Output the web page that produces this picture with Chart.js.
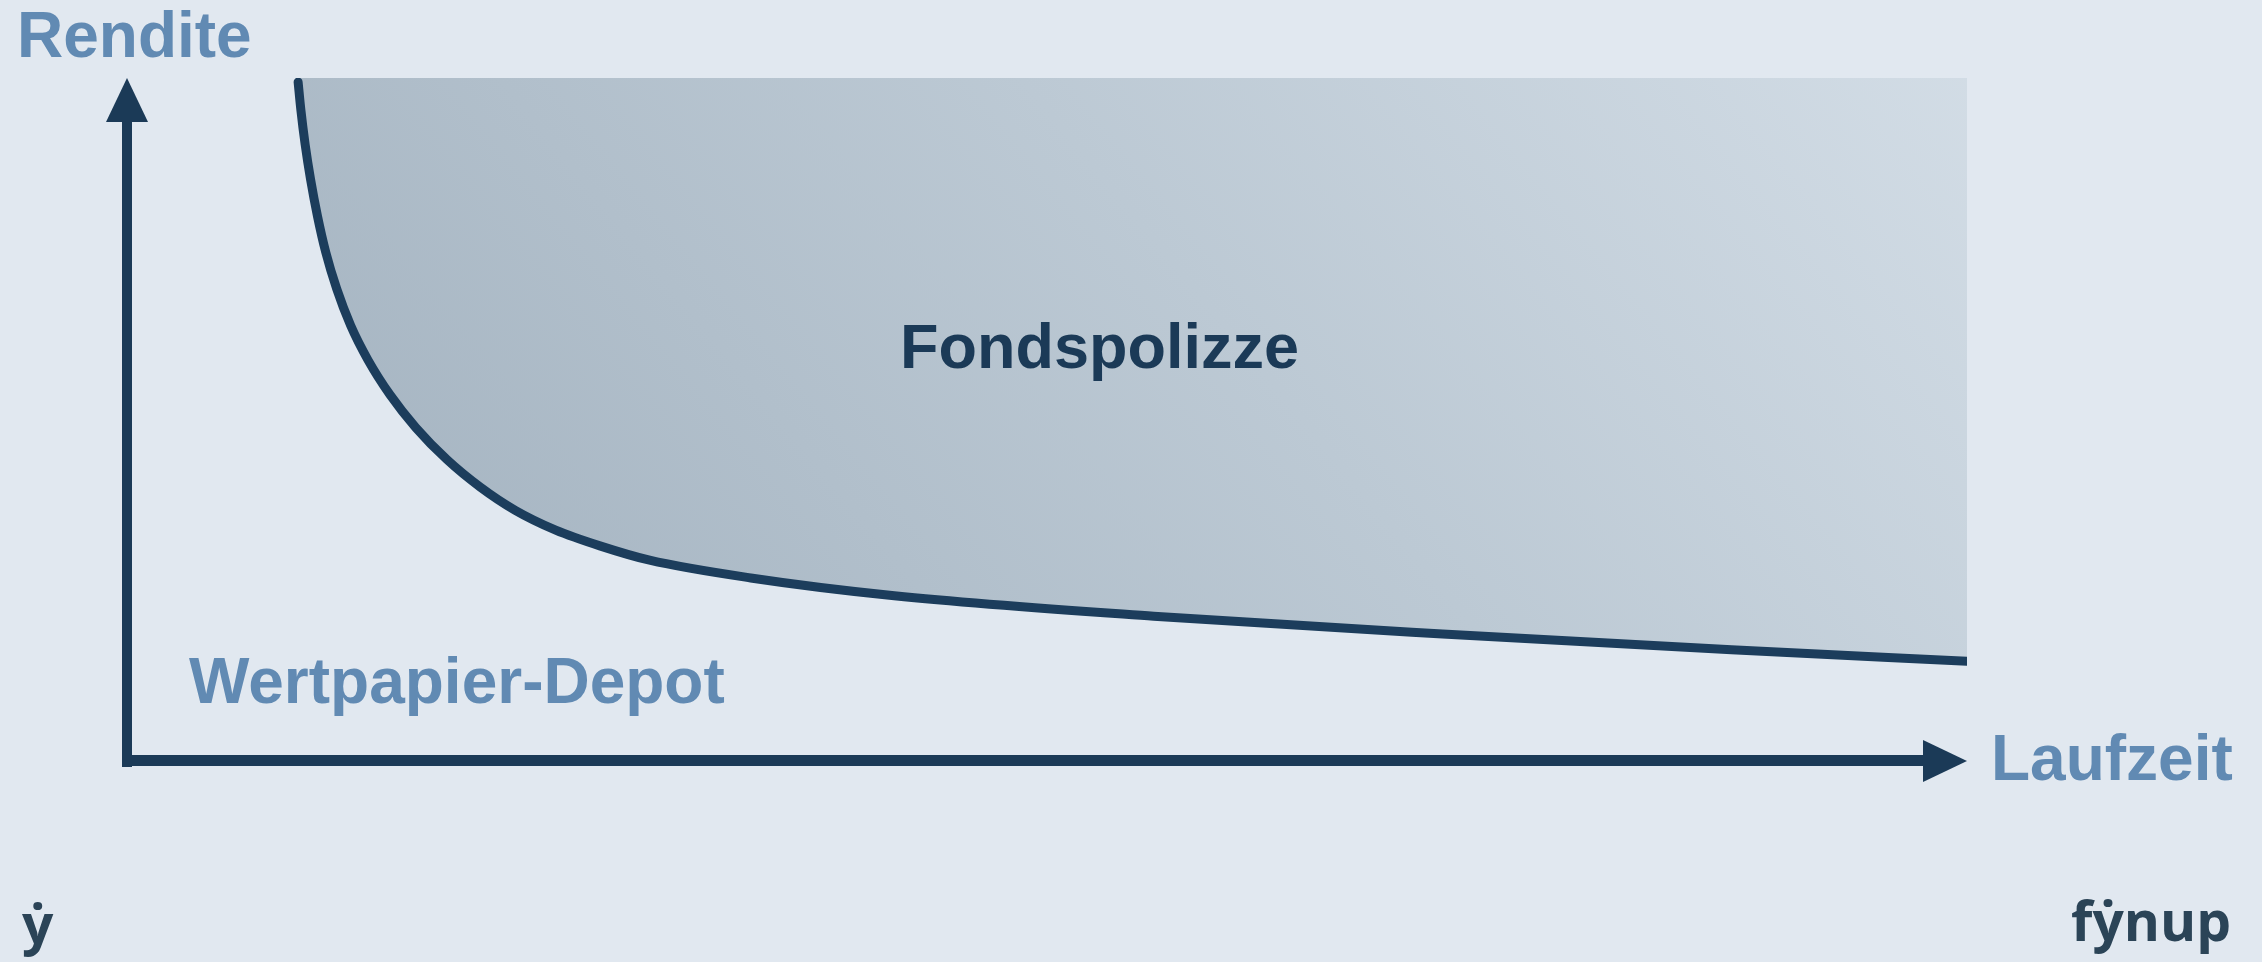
<!DOCTYPE html>
<html lang="de">
<head>
<meta charset="utf-8">
<title>Rendite nach Laufzeit: Fondspolizze vs. Wertpapier-Depot</title>
<script src="https://cdn.jsdelivr.net/npm/chart.js"></script>
<style>
    html, body { margin: 0; padding: 0; background: #e1e8f0; }
    #wrap { width: 2262px; height: 962px; position: relative; }
</style>
</head>
<body>
<div id="wrap"><canvas id="renditeChart"></canvas></div>
<script>
// Laufzeit (0 = Ursprung, 100 = Pfeilspitze) und Rendite der Kurve
const laufzeit = [9.3, 9.45, 9.68, 9.98, 10.35, 10.8, 11.4, 12.15, 13.1, 14.3, 15.7, 17.4, 19.2, 21.1, 23.3, 25.7, 28.4, 33.9, 41.7, 55.8, 71.5, 87.2, 100];
const rendite  = [99.4, 95.3, 90.3, 85.1, 79.8, 74.5, 69.1, 63.8, 58.7, 53.6, 48.8, 44.1, 40.1, 36.7, 33.8, 31.5, 29.4, 26.8, 24.2, 21.2, 18.6, 16.3, 14.6];

const axisLabels = { y: 'Rendite', x: 'Laufzeit' };
const areaLabels = { oben: 'Fondspolizze', unten: 'Wertpapier-Depot' };
const logoText = 'f\u1E8Fnup';
const logoMark = '\u1E8F';

const navy = '#1b3a57';
const labelBlue = '#618ab3';
const logoColor = '#2b4457';

// Pfeile an den Achsen
const axesPlugin = {
    id: 'pfeilAchsen',
    afterDraw(chart) {
        const { ctx, scales } = chart;
        const x0 = scales.x.getPixelForValue(0);
        const y0 = scales.y.getPixelForValue(0);
        const xEnd = scales.x.getPixelForValue(100);
        const yEnd = scales.y.getPixelForValue(100);
        const head = 44, half = 21;

        ctx.save();
        ctx.fillStyle = navy;
        // y-Achse
        ctx.fillRect(x0 - 5, yEnd + head - 2, 10, y0 + 6 - (yEnd + head - 2));
        ctx.beginPath();
        ctx.moveTo(x0, yEnd);
        ctx.lineTo(x0 - half, yEnd + head);
        ctx.lineTo(x0 + half, yEnd + head);
        ctx.closePath();
        ctx.fill();
        // x-Achse
        ctx.fillRect(x0 - 5, y0 - 6, xEnd - head + 2 - (x0 - 5), 11);
        ctx.beginPath();
        ctx.moveTo(xEnd, y0);
        ctx.lineTo(xEnd - head, y0 - half);
        ctx.lineTo(xEnd - head, y0 + half);
        ctx.closePath();
        ctx.fill();
        ctx.restore();
    }
};

// Beschriftungen und Logo
const labelPlugin = {
    id: 'beschriftung',
    afterDraw(chart) {
        const { ctx } = chart;
        ctx.save();
        ctx.textBaseline = 'alphabetic';
        ctx.textAlign = 'left';

        ctx.font = 'bold 64px "Liberation Sans", Arial, sans-serif';
        ctx.fillStyle = labelBlue;
        ctx.fillText(axisLabels.y, 17, 57);
        ctx.fillText(axisLabels.x, 1991, 780);
        ctx.fillText(areaLabels.unten, 189, 703);

        ctx.font = 'bold 63px "Liberation Sans", Arial, sans-serif';
        ctx.fillStyle = navy;
        ctx.fillText(areaLabels.oben, 900, 368);

        ctx.fillStyle = logoColor;
        ctx.font = 'bold 56px "Open Sans", "DejaVu Sans", sans-serif';
        const w = ctx.measureText(logoText).width;
        const size = 56 * 160 / w;
        ctx.font = 'bold ' + size.toFixed(1) + 'px "Open Sans", "DejaVu Sans", sans-serif';
        ctx.textAlign = 'right';
        ctx.fillText(logoText, 2231, 941);
        ctx.textAlign = 'left';
        ctx.fillText(logoMark, 22, 944);
        ctx.restore();
    }
};

function fillGradient(context) {
    const area = context.chart.chartArea;
    if (!area) return '#bac7d2';
    const g = context.chart.ctx.createLinearGradient(area.left + 350, area.bottom - 80, area.right - 250, area.top - 420);
    g.addColorStop(0, '#a6b5c2');
    g.addColorStop(0.5, '#bcc9d4');
    g.addColorStop(1, '#d4dee7');
    return g;
}

new Chart(document.getElementById('renditeChart'), {
    type: 'line',
    data: {
        labels: laufzeit,
        datasets: [{
            label: areaLabels.oben,
            data: laufzeit.map((x, i) => ({ x: x, y: rendite[i] })),
            borderColor: '#1c3d5c',
            borderWidth: 9,
            borderCapStyle: 'round',
            borderJoinStyle: 'round',
            pointRadius: 0,
            cubicInterpolationMode: 'monotone',
            fill: 'end',
            backgroundColor: fillGradient
        }]
    },
    options: {
        responsive: true,
        maintainAspectRatio: false,
        animation: false,
        layout: { padding: { left: 127, top: 78, right: 295, bottom: 201 } },
        plugins: { legend: { display: false }, tooltip: { enabled: false } },
        scales: {
            x: { type: 'linear', min: 0, max: 100, display: false },
            y: { min: 0, max: 100, display: false }
        }
    },
    plugins: [axesPlugin, labelPlugin]
});
</script>
</body>
</html>
